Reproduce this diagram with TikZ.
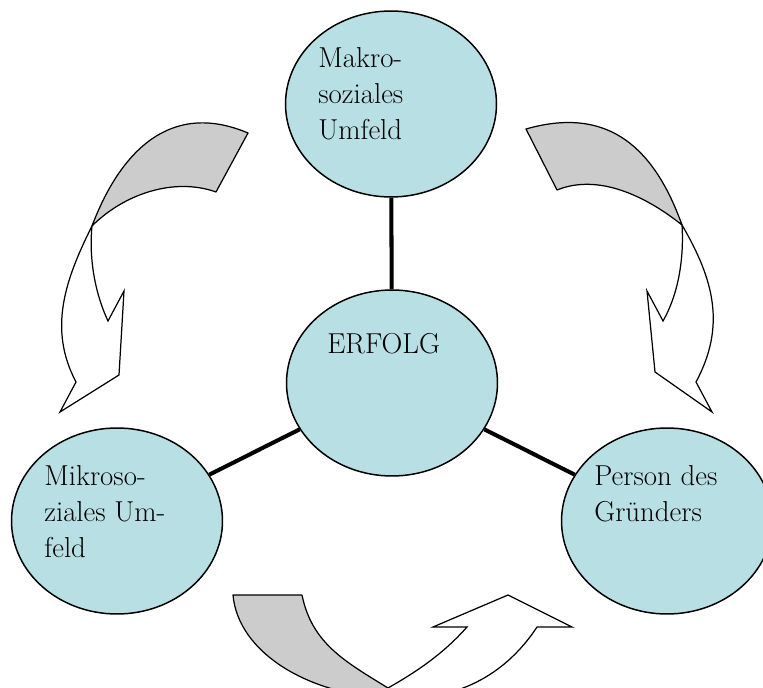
\documentclass[tikz,border=0pt]{standalone}
\usepackage{tikz}
\usetikzlibrary{shapes.geometric}
\definecolor{ovalblue}{RGB}{184,223,227}
\definecolor{backgray}{RGB}{204,204,204}
\tikzset{
	oval/.style={ellipse, draw, line width=0.85pt, fill=ovalblue,
		minimum width=4.22cm, minimum height=3.72cm, inner sep=0pt},
	ovaltext/.style={anchor=north west, inner sep=0pt, align=left,
		font=\fontsize{16.4}{20.4}\selectfont},
	spoke/.style={line width=2.3pt},
	arrowback/.style={draw, line width=0.7pt, fill=backgray, line join=round},
	arrowfront/.style={draw, line width=0.7pt, fill=white, line join=miter}
}

\begin{document}
\begin{tikzpicture}[x=0.02cm, y=-0.02cm]
	\useasboundingbox (0,0) rectangle (763,688);
	\clip (0,0) rectangle (763,688);
	% bent arrow on the left
	\path[arrowback] (248,133) .. controls (170,100) and (120,152) .. (92,226)
		.. controls (124,194) and (174,177) .. (216,192) -- cycle;
	\path[arrowfront] (92,226) .. controls (65,280) and (48,329) .. (76,382)
		-- (60,412) -- (119,375) -- (124,291) -- (108,321)
		.. controls (94,291) and (89,256) .. (92,226) -- cycle;
	% bent arrow on the right
	\path[arrowback] (526,129) .. controls (610,105) and (655,150) .. (682,225)
		.. controls (647,197) and (599,173) .. (557,190) -- cycle;
	\path[arrowfront] (682,225) .. controls (714,280) and (726,326) .. (696,382)
		-- (712,412) -- (655,372) -- (647,291) -- (663,321)
		.. controls (679,293) and (684,257) .. (682,225) -- cycle;
	% bent arrow at the bottom
	\path[arrowback] (233,595) -- (302,595) .. controls (312,644) and (346,662) .. (388,688)
		-- (400,699) .. controls (308,697) and (238,652) .. (233,595) -- cycle;
	\path[arrowfront] (388,688) .. controls (418,671) and (444,653) .. (467,627)
		-- (433,627) -- (508,595) -- (572,627) -- (537,627)
		.. controls (512,665) and (470,699) .. (400,699) -- cycle;

	\node[oval] (makro) at (391,104) {};
	\node[oval] (erfolg) at (392,383) {};
	\node[oval] (mikro) at (117,521) {};
	\node[oval] (person) at (667,521) {};

	\draw[spoke] (makro) -- (erfolg);
	\draw[spoke] (mikro) -- (erfolg);
	\draw[spoke] (person) -- (erfolg);

	\node[ovaltext] (makrolabel) at (318,47) {Makro-\\soziales\\Umfeld};
	\node[ovaltext] (erfolglabel) at (327,333) {ERFOLG};
	\node[ovaltext] (mikrolabel) at (44,465) {Mikroso-\\ziales Um-\\feld};
	\node[ovaltext] (personlabel) at (594,465) {Person des\\Gründers};
\end{tikzpicture}
\end{document}
